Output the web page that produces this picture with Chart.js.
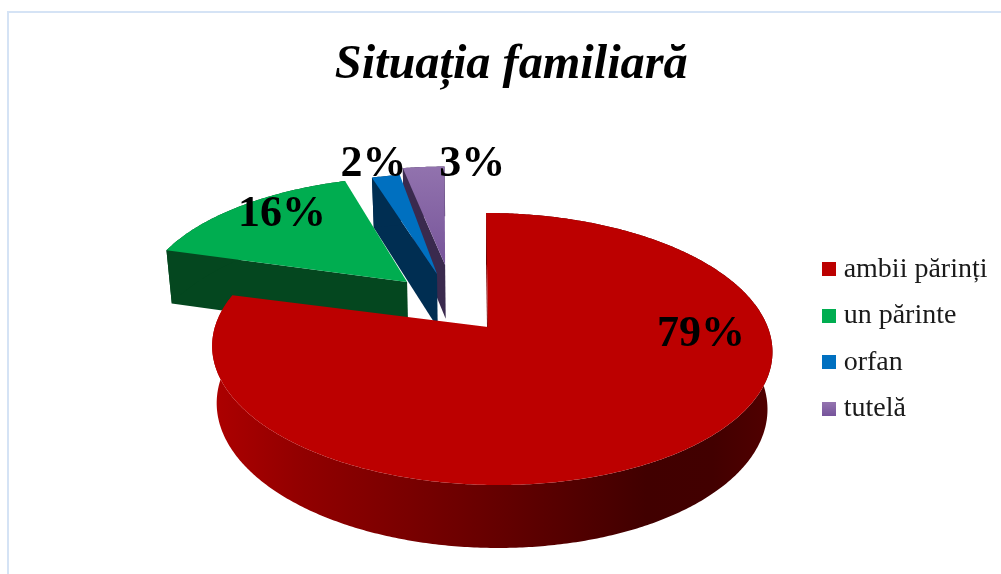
<!DOCTYPE html>
<html><head><meta charset="utf-8">
<style>html,body{margin:0;padding:0;background:#fff}canvas{display:block}</style>
<script src="https://cdn.jsdelivr.net/npm/chart.js@4"></script>
</head><body>
<canvas id="c" width="1001" height="574"></canvas>
<script>
const categories = ['ambii părinți', 'un părinte', 'orfan', 'tutelă'];
const shares = [79, 16, 2, 3];
const titleText = 'Situația familiară';
const faceColors = ['#BC0000', '#00AD50', '#0070C0', '#8064A2'];
const wallColors = ['#7a0000', '#04471F', '#002E52', '#3A2A4E'];

/* perspective of the pie's plane */
const persp = {a: .001221, b: .0001975, k: .3375, vx: 475, horizon: -492};
const apexes = [[.047, 0], [-.26, .36], [-.147, .428], [-.117, .506]];
const arcTweaks = [[0, .012, 0], [-.003, 0, .03], [0, 0, 0], [-.02, 0, 0]];
const labelSpots = [[.81, -.06], [-.81, .987], [-.458, 1.525], [-.012, 1.525]];

function top3d(u, w) {
  const s = 1 / (persp.a + persp.b * w);
  return {x: persp.vx + persp.k * s * u, y: persp.horizon + s};
}
function low3d(p) {
  return {x: 480 + (p.x - 480) * .983, y: p.y + 50 + .042 * (p.y - 177)};
}
function arcPoints(i, start, end) {
  const pts = [], n = Math.max(2, Math.ceil((end - start) / .01)), tw = arcTweaks[i];
  for (let j = 0; j <= n; j++) {
    const t = start + (end - start) * j / n, c = -Math.sin(t);
    pts.push(top3d(apexes[i][0] + Math.cos(t) + tw[0] + tw[1] * (1 - c), apexes[i][1] + c + tw[2]));
  }
  return pts;
}
function poly(ctx, pts, fill) {
  ctx.beginPath();
  pts.forEach((p, k) => k ? ctx.lineTo(p.x, p.y) : ctx.moveTo(p.x, p.y));
  ctx.closePath();
  ctx.fillStyle = fill;
  ctx.fill();
}
const pie3d = {
  id: 'pie3d',
  beforeDraw(chart) {
    const {ctx} = chart;
    ctx.save();
    ctx.strokeStyle = '#D5E3F5';
    ctx.lineWidth = 2;
    ctx.strokeRect(8, 12, 1100, 700);
    ctx.restore();
  },
  beforeDatasetsDraw(chart) {
    const {ctx} = chart, arcs = chart.getDatasetMeta(0).data;
    ctx.save();
    for (let i = arcs.length - 1; i >= 0; i--) {
      const arc = arcs[i], pts = arcPoints(i, arc.startAngle, arc.endAngle);
      const apex = top3d(apexes[i][0], apexes[i][1]);
      const first = pts[0];
      poly(ctx, [apex, first, low3d(first), low3d(apex)], wallColors[i]);
      let wall = wallColors[i];
      if (i === 0) {
        wall = ctx.createLinearGradient(215, 0, 768, 0);
        wall.addColorStop(0, '#AC0000');
        wall.addColorStop(.16, '#910000');
        wall.addColorStop(.5, '#660000');
        wall.addColorStop(.78, '#410000');
        wall.addColorStop(.9, '#420000');
        wall.addColorStop(1, '#500000');
      }
      poly(ctx, pts.concat(pts.map(low3d).reverse()), wall);
      let face = faceColors[i];
      if (i === 3) {
        face = ctx.createLinearGradient(0, 165, 0, 265);
        face.addColorStop(0, '#9273AE');
        face.addColorStop(1, '#77559A');
      }
      poly(ctx, [apex].concat(pts), face);
    }
    ctx.restore();
    return false;
  },
  afterDraw(chart) {
    const {ctx} = chart, total = shares.reduce((a, b) => a + b, 0);
    ctx.save();
    ctx.font = 'bold 44px "Liberation Serif"';
    ctx.fillStyle = '#000';
    ctx.textAlign = 'center';
    ctx.textBaseline = 'middle';
    shares.forEach((v, i) => {
      const p = top3d(labelSpots[i][0], labelSpots[i][1]);
      ctx.fillText(Math.round(v / total * 100) + '%', p.x, p.y);
    });
    ctx.restore();
  }
};
function legendSwatch(i) {
  const cv = document.createElement('canvas');
  cv.width = 14; cv.height = 14;
  const g = cv.getContext('2d');
  let fill = faceColors[i];
  if (i === 3) {
    fill = g.createLinearGradient(0, 0, 0, 14);
    fill.addColorStop(0, '#9575B0');
    fill.addColorStop(1, '#76549B');
  }
  g.fillStyle = fill;
  g.fillRect(0, 0, 14, 14);
  return cv;
}

new Chart(document.getElementById('c'), {
  type: 'pie',
  data: {labels: categories, datasets: [{data: shares, backgroundColor: faceColors, borderWidth: 0}]},
  plugins: [pie3d],
  options: {
    responsive: false, animation: false,
    layout: {padding: {left: 25, right: 3.5, top: 0, bottom: 0}},
    plugins: {
      title: {display: true, text: titleText, color: '#000',
        font: {family: '"Liberation Serif"', size: 48.3, weight: 'bold', style: 'italic'},
        padding: {top: 37, bottom: 9.4}},
      legend: {position: 'right', fullSize: false,
        labels: {color: '#1a1a1a', usePointStyle: true, pointStyleWidth: 1, boxHeight: 14, padding: 18.5,
          font: {family: '"Liberation Serif"', size: 28},
          generateLabels(chart) {
            return Chart.overrides.pie.plugins.legend.labels.generateLabels(chart)
              .map((item, i) => Object.assign(item, {pointStyle: legendSwatch(i)}));
          }}},
      tooltip: {enabled: false}
    }
  }
});
</script>
</body></html>
